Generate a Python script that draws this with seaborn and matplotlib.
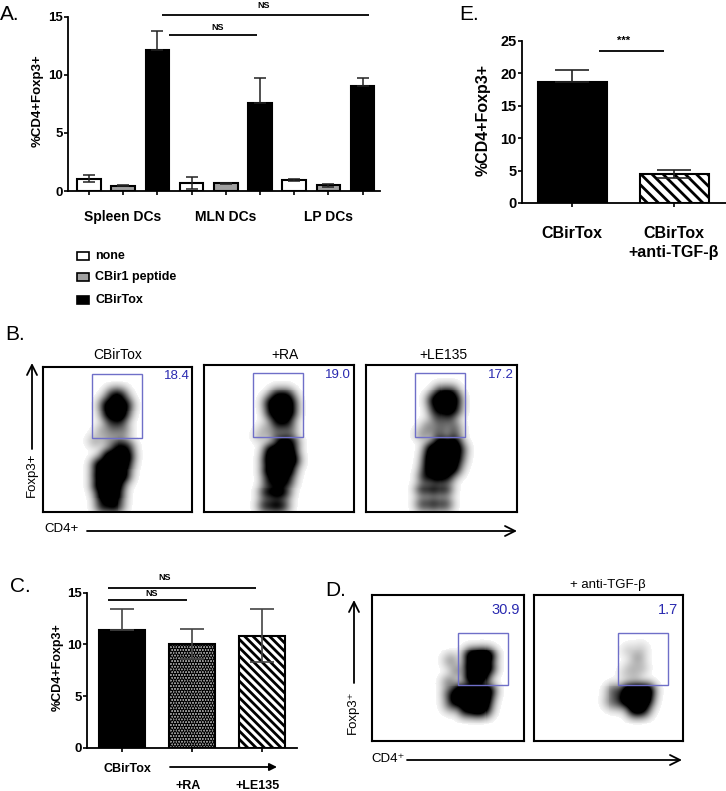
import matplotlib
matplotlib.use("Agg")
import matplotlib.pyplot as plt
import numpy as np
import pandas as pd
import seaborn as sns
from matplotlib.patches import Rectangle

W, H = 726, 791

# Panel A
a_labels = ["Spleen none", "Spleen CBir1", "Spleen Tox", "MLN none", "MLN CBir1", "MLN Tox",
            "LP none", "LP CBir1", "LP Tox"]
a_treat = ["none", "CBir1 peptide", "CBirTox"] * 3
a_vals = [1.05, 0.47, 12.15, 0.7, 0.65, 7.6, 0.97, 0.5, 9.05]
a_err_up = [0.3, 0.07, 1.6, 0.5, 0.05, 2.15, 0.08, 0.12, 0.7]
a_err_low = [0.3, 0.07, 0, 0.5, 0.05, 0, 0.08, 0.12, 0]
a_colors = {"none": "white", "CBir1 peptide": "#a0a0a0", "CBirTox": "black"}

# Panel C
c_labels = ["CBirTox", "+RA", "+LE135"]
c_vals = [11.35, 10.05, 10.85]
c_err_up = [2.1, 1.45, 2.55]
c_err_low = [0, 1.45, 2.55]

# Panel E
e_labels = ["CBirTox", "CBirTox\n+anti-TGF-β"]
e_vals = [18.7, 4.5]
e_err_up = [1.8, 0.6]
e_err_low = [0, 0.6]

# Flow plots: rough population shapes, in % of each frame
b1_x = [47, 52, 43, 49, 55, 44, 50, 54, 46, 52, 40, 47, 54, 35, 44, 52, 50, 56, 44, 50, 56,
        38, 44, 50, 55, 38, 44, 50, 54, 38, 44, 50, 40, 46, 50, 40, 46, 50]
b1_y = [80, 80, 74, 74, 74, 68, 68, 68, 62, 62, 56, 56, 56, 49, 49, 49, 44, 44, 38, 38, 38,
        32, 32, 32, 32, 25, 25, 25, 25, 18, 18, 18, 11, 11, 11, 4, 4, 4]
b1_w = [3, 3, 4, 5, 4, 4, 5, 3, 2, 2, 0.6, 0.9, 0.9, 0.5, 0.7, 0.9, 3, 3, 5, 6, 5,
        5, 6, 6, 4, 5, 6, 6, 4, 5, 6, 5, 5, 5, 3, 3, 3, 2]
b2_x = [49, 55, 45, 51, 57, 46, 52, 57, 49, 55, 42, 50, 57, 38, 48, 56, 52, 58, 45, 51, 57,
        44, 50, 56, 59, 44, 50, 56, 44, 50, 55, 42, 48, 53, 41, 47, 52]
b2_y = [79, 79, 74, 74, 74, 68, 68, 68, 62, 62, 57, 57, 57, 52, 52, 52, 47, 47, 41, 41, 41,
        35, 35, 35, 35, 28, 28, 28, 21, 21, 21, 13, 13, 13, 4, 4, 4]
b2_w = [3, 3, 4, 5, 4, 4, 5, 4, 3, 3, 0.5, 1.0, 1.0, 0.4, 1.0, 1.0, 4, 3, 5, 6, 5,
        5, 6, 6, 3, 5, 6, 5, 3, 4, 3, 3, 4, 3, 2.5, 3, 2.5]
b3_x = [50, 56, 46, 52, 58, 47, 53, 58, 48, 55, 42, 50, 58, 38, 48, 58, 50, 58, 44, 50, 56, 61,
        43, 49, 55, 60, 42, 48, 54, 58, 40, 47, 53, 38, 45, 52, 38, 45, 52]
b3_y = [81, 81, 76, 76, 76, 70, 70, 70, 64, 64, 58, 58, 58, 53, 53, 53, 47, 47, 42, 42, 42, 42,
        36, 36, 36, 36, 30, 30, 30, 30, 24, 24, 24, 15, 15, 15, 5, 5, 5]
b3_w = [3, 3, 4, 5, 4, 3, 4, 3, 1.6, 1.6, 0.9, 1.1, 1.1, 0.7, 1.2, 1.3, 4, 4, 5, 6, 5, 3,
        5, 6, 6, 3, 4, 6, 5, 3, 3, 4, 3, 2.5, 3, 2.5, 2, 2.5, 2]
d1_x = [66, 72, 76, 66, 72, 76, 66, 72, 58, 64, 70, 76, 56, 62, 68, 74, 62, 68, 73, 52, 56, 51, 52, 52]
d1_y = [58, 58, 58, 51, 51, 50, 44, 44, 34, 34, 34, 34, 28, 28, 28, 28, 22, 22, 22, 55, 48, 40, 32, 25]
d1_w = [6, 6, 5, 6, 6, 4, 6, 6, 5, 6, 6, 5, 5, 6, 6, 6, 4, 5, 5, 0.7, 0.8, 1, 2, 1.2]
d2_x = [64, 70, 76, 63, 69, 75, 68, 73, 53, 57, 52, 57, 70, 66, 72, 64, 72, 68, 62]
d2_y = [34, 34, 34, 28, 28, 28, 22, 22, 34, 33, 27, 27, 57, 50, 50, 62, 63, 44, 46]
d2_w = [6, 7, 6, 6, 7, 6, 5, 4, 1.0, 1.5, 0.9, 1.5, 0.6, 0.35, 0.35, 0.2, 0.2, 0.3, 0.2]

sns.set_theme(style="ticks")
plt.rcParams["font.family"] = ["Liberation Sans", "DejaVu Sans"]
plt.rcParams["hatch.linewidth"] = 2.0

fig = plt.figure(figsize=(W / 100, H / 100), dpi=100)


def px_axes(l, t, r, b):
    return fig.add_axes([l / W, 1 - b / H, (r - l) / W, (b - t) / H])


def style_bar_ax(ax, ticks, tick_size):
    sns.despine(ax=ax)
    for s in ["left", "bottom"]:
        ax.spines[s].set_linewidth(1.3)
        ax.spines[s].set_color("black")
    ax.set_yticks(ticks)
    ax.set_xticklabels([])
    ax.set_xlabel("")
    ax.set_ylabel("")
    ax.tick_params(width=1.2, length=3, color="black", pad=1)
    ax.tick_params(axis="y", labelsize=tick_size)
    for t in ax.get_yticklabels():
        t.set_fontweight("bold")
        t.set_color("black")


# A
ax_a = px_axes(68, 16.7, 380, 191)
df_a = pd.DataFrame({"label": a_labels, "value": a_vals, "treat": a_treat})
sns.barplot(data=df_a, x="label", y="value", hue="treat", palette=a_colors, dodge=False,
            width=0.69, edgecolor="black", linewidth=1.5, legend=False, ax=ax_a)
ax_a.errorbar(range(9), a_vals, yerr=[a_err_low, a_err_up], fmt="none", ecolor="#222222",
              elinewidth=1.1, capsize=4.4, capthick=1.1, zorder=5)
ax_a.set_xlim(-0.614, 8.51)
ax_a.set_ylim(0, 15)
style_bar_ax(ax_a, [0, 5, 10, 15], 9.5)

# C
ax_c = px_axes(87, 592.7, 297, 748)
sns.barplot(x=c_labels, y=c_vals, color="black", width=0.67, edgecolor="black", linewidth=1.5,
            saturation=1, ax=ax_c)
for bar, face, hatch in zip(ax_c.patches, ["black", "#b0b0b0", "white"], ["", "......", "\\\\\\\\"]):
    bar.set_facecolor(face)
    bar.set_hatch(hatch)
ax_c.errorbar(range(3), c_vals, yerr=[c_err_low, c_err_up], fmt="none", ecolor="#444444",
              elinewidth=1.2, capsize=8.6, capthick=1.2, zorder=5)
ax_c.set_xlim(-0.5, 2.5)
ax_c.set_ylim(0, 15)
style_bar_ax(ax_c, [0, 5, 10, 15], 9.5)

# E
ax_e = px_axes(522, 40.7, 726, 203)
sns.barplot(x=e_labels, y=e_vals, color="black", width=0.673, edgecolor="black", linewidth=1.5,
            saturation=1, ax=ax_e)
for bar, face, hatch in zip(ax_e.patches, ["black", "white"], ["", "\\\\\\"]):
    bar.set_facecolor(face)
    bar.set_hatch(hatch)
ax_e.errorbar(range(2), e_vals, yerr=[e_err_low, e_err_up], fmt="none", ecolor="#222222",
              elinewidth=1.2, capsize=12, capthick=1.2, zorder=5)
ax_e.set_xlim(-0.495, 1.505)
ax_e.set_ylim(0, 25)
style_bar_ax(ax_e, [0, 5, 10, 15, 20, 25], 10.5)


# Flow plots: a density heatmap stands in for the dot clouds
def flow(frame, gate, x, y, w, sigma=3.4, gate_color="#6f6fc8"):
    ax = px_axes(*frame)
    gx = np.linspace(0, 100, 150)
    gy = np.linspace(100, 0, 150)
    xx, yy = np.meshgrid(gx, gy)
    dens = np.zeros_like(xx)
    for px, py, pw in zip(x, y, w):
        dens += pw * np.exp(-((xx - px) ** 2 + (yy - py) ** 2) / (2 * sigma ** 2))
    shade = np.clip(dens / 5, 0, 1) ** 0.6  # widen the grey halo round the dense parts
    shade[shade < 0.04] = 0
    sns.heatmap(shade, cmap="gray_r", vmin=0, vmax=1, cbar=False, xticklabels=False,
                yticklabels=False, ax=ax)
    for s in ax.spines.values():
        s.set_visible(True)
        s.set_linewidth(1.5)
        s.set_color("black")
    l, t, r, b = frame
    gl, gt, gr, gb = gate
    ax.add_patch(Rectangle(((gl - l) / (r - l), (b - gb) / (b - t)),
                           (gr - gl) / (r - l), (gb - gt) / (b - t), transform=ax.transAxes,
                           fill=False, edgecolor=gate_color, linewidth=1.0, zorder=6))
    return ax


flow((43, 367, 192, 512), (92, 374, 142, 438), b1_x, b1_y, b1_w)
flow((204, 365, 354, 512), (253, 373, 303, 437), b2_x, b2_y, b2_w)
flow((366, 365, 517, 512), (415, 373, 465, 437), b3_x, b3_y, b3_w)
flow((372, 595, 524, 741), (458, 633, 508, 685), d1_x, d1_y, d1_w)
flow((534, 595, 683, 741), (618, 633, 668, 685), d2_x, d2_y, d2_w)

# Overlay in pixel coordinates for labels, lines and arrows
ov = fig.add_axes([0, 0, 1, 1], facecolor="none")
ov.set_xlim(0, W)
ov.set_ylim(H, 0)
ov.axis("off")


def txt(x, y, s, size=10, weight="normal", color="black", ha="center", rot=0, **kw):
    ov.text(x, y, s, fontsize=size, fontweight=weight, color=color, ha=ha, va="center",
            rotation=rot, **kw)


def hline(x0, x1, y, lw=1.3):
    ov.plot([x0, x1], [y, y], color="black", lw=lw, solid_capstyle="butt")


def arrow(x0, y0, x1, y1, style="->", scale=18):
    ov.annotate("", xy=(x1, y1), xytext=(x0, y0),
                arrowprops=dict(arrowstyle=style, color="black", lw=1.3, mutation_scale=scale,
                                shrinkA=0, shrinkB=0))


# panel letters
txt(10, 15, "A.", 15)
txt(15, 335, "B.", 15)
txt(20, 586, "C.", 15)
txt(336, 590, "D.", 15)
txt(469, 15, "E.", 15)

# A labels
txt(38, 101, "%CD4+Foxp3+", 9.5, "bold", rot=90)
txt(123, 217, "Spleen DCs", 10, "bold")
txt(226, 217, "MLN DCs", 10, "bold")
txt(328, 217, "LP DCs", 10, "bold")
hline(162, 369, 14.6)
txt(264, 5, "NS", 6.5, "bold")
hline(169, 257, 35)
txt(218, 28, "NS", 6.5, "bold")
for y, name, face in zip([256, 277, 300], ["none", "CBir1 peptide", "CBirTox"], a_colors.values()):
    ov.add_patch(Rectangle((77, y - 4), 12, 8, facecolor=face, edgecolor="black", linewidth=1.2))
    txt(95, y, name, 9, "bold", ha="left")

# B labels
txt(118, 355, "CBirTox", 10)
txt(285, 355, "+RA", 10)
txt(443, 355, "+LE135", 10)
txt(190, 376, "18.4", 9.5, color="#2a2ab0", ha="right")
txt(351, 375, "19.0", 9.5, color="#2a2ab0", ha="right")
txt(514, 375, "17.2", 9.5, color="#2a2ab0", ha="right")
txt(32, 475, "Foxp3+", 9.5, rot=90)
txt(44, 529, "CD4+", 9.5, ha="left")
arrow(32, 449, 32, 363)
arrow(87, 531, 517, 531)

# C labels
txt(58, 667, "%CD4+Foxp3+", 9, "bold", rot=90)
txt(127, 769, "CBirTox", 9, "bold")
txt(188, 786, "+RA", 9, "bold")
txt(258, 786, "+LE135", 9, "bold")
arrow(170, 767, 277, 767, style="-|>", scale=11)
hline(108, 256, 587.7)
txt(165, 578, "NS", 6.5, "bold")
hline(108, 187, 600)
txt(152, 593, "NS", 6.5, "bold")

# D labels
txt(608, 585, "+ anti-TGF-β", 9.5)
txt(520, 610, "30.9", 10.5, color="#2a2ab0", ha="right")
txt(678, 610, "1.7", 10.5, color="#2a2ab0", ha="right")
txt(353, 712, "Foxp3⁺", 9.5, rot=90)
txt(371, 759, "CD4⁺", 9.5, ha="left")
arrow(354, 683, 354, 600)
arrow(407, 760, 682, 760)

# E labels
txt(483, 120, "%CD4+Foxp3+", 11.5, "bold", rot=90)
txt(572, 233, "CBirTox", 11.5, "bold")
txt(674, 233, "CBirTox", 11.5, "bold")
txt(674, 252, "+anti-TGF-β", 11.5, "bold")
hline(599, 664, 51)
txt(624, 41, "***", 8, "bold")

fig.savefig("out.png", dpi=100)
